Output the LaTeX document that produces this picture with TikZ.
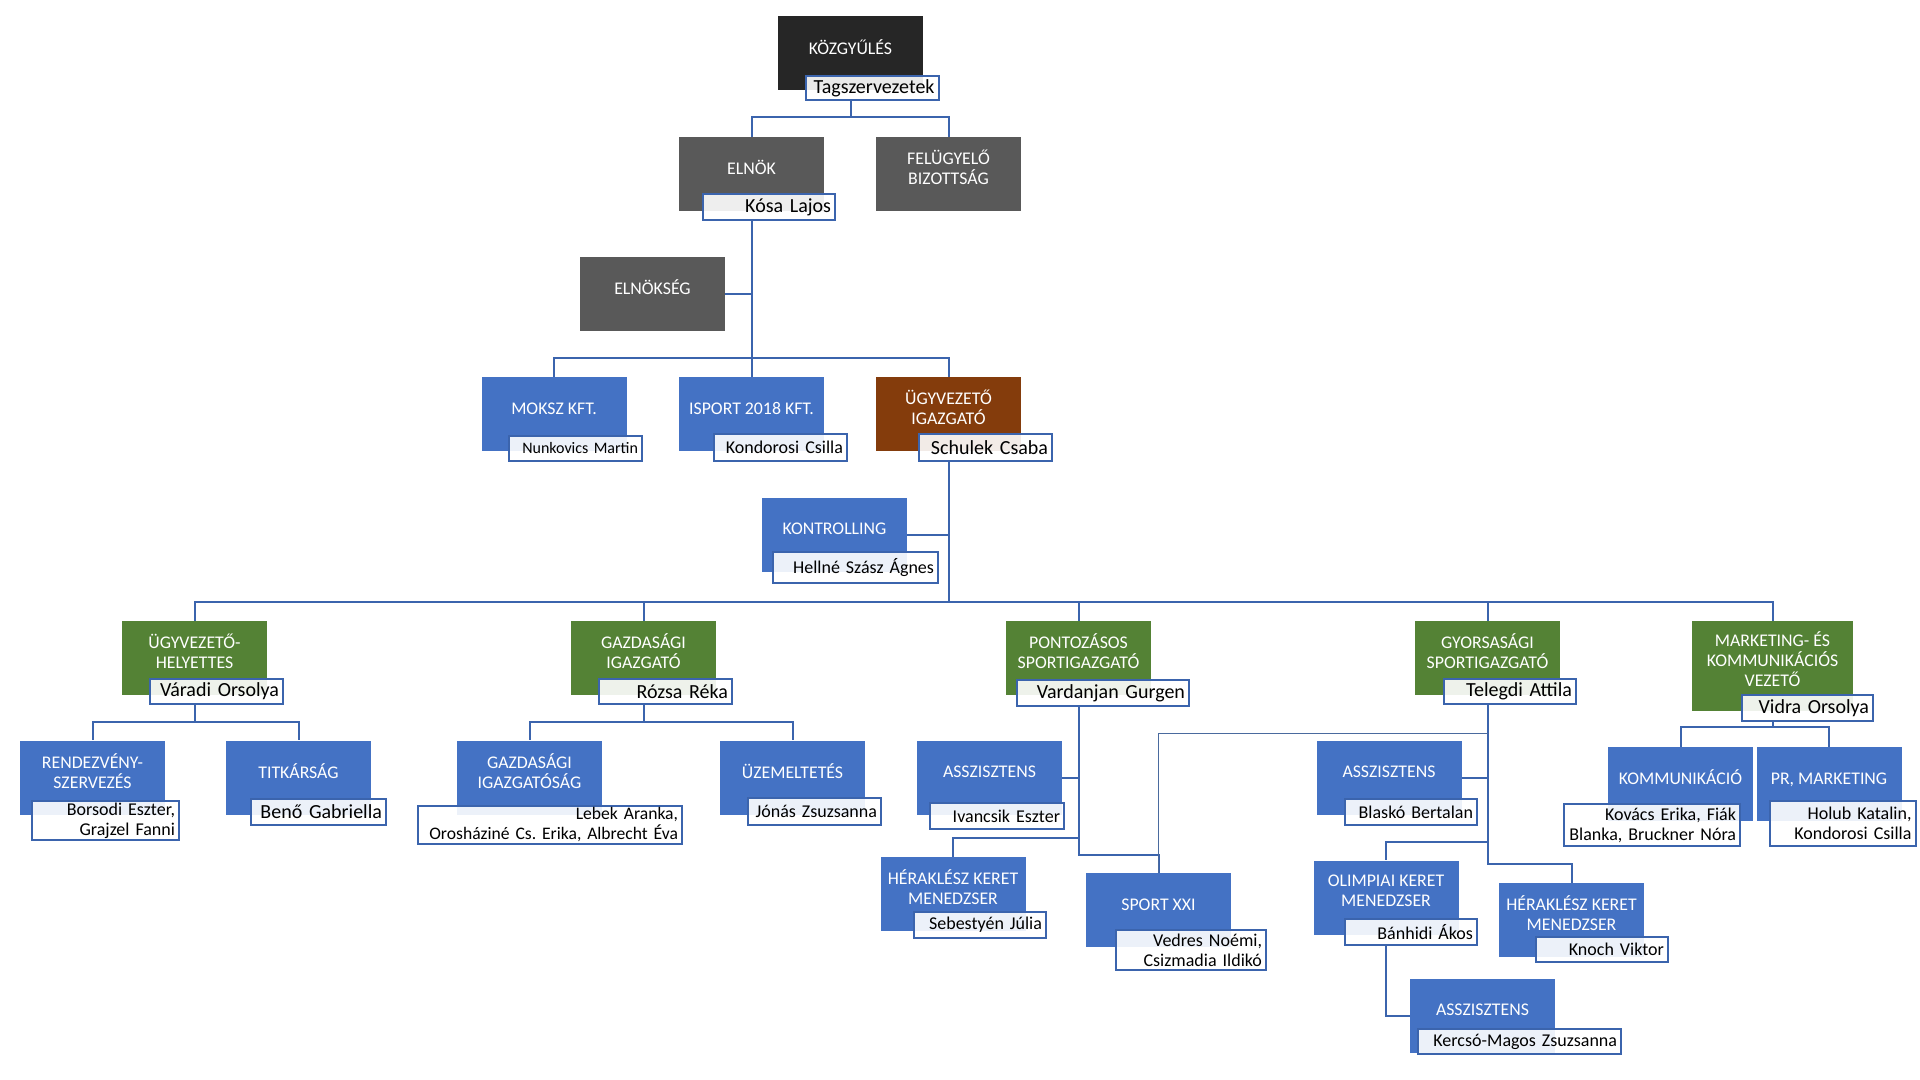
\documentclass[tikz,border=0pt]{standalone}
\usepackage{fontspec}
\setmainfont{Carlito}
\usepackage{xcolor}
\usepackage{tikz}
\frenchspacing

\definecolor{hdark}{HTML}{262626}
\definecolor{hgrey}{HTML}{595959}
\definecolor{hblue}{HTML}{4472C4}
\definecolor{hgreen}{HTML}{548235}
\definecolor{hbrown}{HTML}{843C0C}
\definecolor{lineblue}{HTML}{3B64AD}
\definecolor{thinblue}{HTML}{4A6A9E}

\begin{document}
\begin{tikzpicture}[
        x=0.5pt, y=-0.5pt,
        unitbox/.style={rectangle, fill=#1, text=white, minimum width=72.5pt, minimum height=37pt, inner sep=0pt, align=center, font=\fontsize{8.9}{10}\selectfont, execute at begin node={\vphantom{Ű}}, execute at end node={\vrule width 0pt height 0pt depth 6.8pt}},
        namebox/.style={rectangle, draw=lineblue, line width=1pt, fill=white, fill opacity=.9, text opacity=1, inner xsep=2pt, inner ysep=0pt, minimum height=13pt, text width=#1, align=right, font=\fontsize{9}{10}\selectfont},
        bigname/.style={font=\fontsize{10}{11}\selectfont},
        conn/.style={draw=lineblue, line width=1pt},
        thinconn/.style={draw=thinblue, line width=0.5pt}
    ]
    \useasboundingbox[fill=white] (0,0) rectangle (1920,1080);

    % Közgyűlés
    \node[unitbox=hdark] (kozgy) at (850.5,53.5) {KÖZGYŰLÉS};
    \node[namebox=62.5pt, bigname, minimum height=12pt] (tag) at (872,88) {Tagszervezetek};

    % Elnök, Felügyelő Bizottság
    \node[unitbox=hgrey] (elnok) at (751.5,174) {ELNÖK};
    \node[namebox=62pt, bigname] (kosa) at (769,207) {Kósa Lajos};
    \node[unitbox=hgrey] (fb) at (948.5,174) {FELÜGYELŐ\\BIZOTTSÁG};

    % Elnökség
    \node[unitbox=hgrey] (elnokseg) at (652.5,294) {ELNÖKSÉG};

    % Cégek
    \node[unitbox=hblue] (moksz) at (554,414) {MOKSZ KFT.};
    \node[namebox=62.5pt, font=\fontsize{8}{9}\selectfont, minimum height=12.5pt] (nunk) at (575.5,448.5) {Nunkovics Martin};
    \node[unitbox=hblue] (isport) at (751.5,414) {ISPORT 2018 KFT.};
    \node[namebox=62.5pt, minimum height=13.5pt] (kond) at (780.5,447.5) {Kondorosi Csilla};

    % Ügyvezető igazgató
    \node[unitbox=hbrown] (ugyv) at (948.5,414) {ÜGYVEZETŐ\\IGAZGATÓ};
    \node[namebox=62.5pt, bigname, minimum height=13.5pt] (schulek) at (985.5,447.5) {Schulek Csaba};

    % Kontrolling
    \node[unitbox=hblue] (kontr) at (834.5,534.5) {KONTROLLING};
    \node[namebox=78.5pt, minimum height=15.5pt] (hellne) at (855.5,567.5) {Hellné Szász Ágnes};

    % Ügyvezető-helyettes
    \node[unitbox=hgreen] (helyettes) at (194.5,658) {ÜGYVEZETŐ-\\HELYETTES};
    \node[namebox=62.5pt, bigname, minimum height=12.5pt] (varadi) at (216.5,691.5) {Váradi Orsolya};
    \node[unitbox=hblue] (rendezv) at (92.5,777.5) {RENDEZVÉNY-\\SZERVEZÉS};
    \node[namebox=69.5pt, minimum height=19.5pt] (borsodi) at (105.5,820.5) {Borsodi Eszter,\\Grajzel Fanni};
    \node[unitbox=hblue] (titk) at (298.5,777.5) {TITKÁRSÁG};
    \node[namebox=63.5pt, bigname] (beno) at (318.5,812) {Benő Gabriella};

    % Gazdasági igazgató
    \node[unitbox=hgreen] (gazd) at (643.5,658) {GAZDASÁGI\\IGAZGATÓ};
    \node[namebox=62.5pt, bigname, minimum height=12.5pt] (rozsa) at (665.5,691.5) {Rózsa Réka};
    \node[unitbox=hblue] (gazdig) at (529.5,777.5) {GAZDASÁGI\\IGAZGATÓSÁG};
    \node[namebox=128pt, font=\fontsize{8.8}{10}\selectfont, minimum height=19pt] (lebek) at (550,825) {Lebek Aranka,\\Orosháziné Cs.~Erika, Albrecht Éva};
    \node[unitbox=hblue] (uzem) at (792.5,777.5) {ÜZEMELTETÉS};
    \node[namebox=62.5pt, minimum height=13.5pt] (jonas) at (814.5,811.5) {Jónás Zsuzsanna};

    % Pontozásos sportigazgató
    \node[unitbox=hgreen] (pont) at (1078.5,658) {PONTOZÁSOS\\SPORTIGAZGATÓ};
    \node[namebox=82pt, bigname] (vardanjan) at (1103,693) {Vardanjan Gurgen};
    \node[unitbox=hblue] (asszp) at (989.5,777.5) {ASSZISZTENS};
    \node[namebox=63pt] (ivancsik) at (997,816) {Ivancsik Eszter};
    \node[unitbox=hblue] (herak1) at (953,894) {HÉRAKLÉSZ KERET\\MENEDZSER};
    \node[namebox=62pt] (sebestyen) at (980,925) {Sebestyén Júlia};
    \node[unitbox=hblue] (sport) at (1158.5,910) {SPORT XXI};
    \node[namebox=71pt, minimum height=20pt] (vedres) at (1191,950) {Vedres Noémi,\\Csizmadia Ildikó};

    % Gyorsasági sportigazgató
    \node[unitbox=hgreen] (gyors) at (1487.5,658) {GYORSASÁGI\\SPORTIGAZGATÓ};
    \node[namebox=62pt, bigname, minimum height=12.5pt] (telegdi) at (1510,691.5) {Telegdi Attila};
    \node[unitbox=hblue] (asszgy) at (1389,777.5) {ASSZISZTENS};
    \node[namebox=62pt] (blasko) at (1411,812) {Blaskó Bertalan};
    \node[unitbox=hblue] (olimp) at (1386,897.5) {OLIMPIAI KERET\\MENEDZSER};
    \node[namebox=62pt] (banhidi) at (1411,932) {Bánhidi Ákos};
    \node[unitbox=hblue] (herak2) at (1571.5,920) {HÉRAKLÉSZ KERET\\MENEDZSER};
    \node[namebox=62pt, minimum height=12.5pt] (knoch) at (1602,949.5) {Knoch Viktor};
    \node[unitbox=hblue] (asszol) at (1482.5,1015.5) {ASSZISZTENS};
    \node[namebox=97.5pt, minimum height=12.5pt] (kercso) at (1519.5,1041.5) {Kercsó-Magos Zsuzsanna};

    % Marketing- és kommunikációs vezető
    \node[unitbox=hgreen, minimum width=80.5pt, minimum height=45pt] (mark) at (1772.5,666) {MARKETING- ÉS\\KOMMUNIKÁCIÓS\\VEZETŐ};
    \node[namebox=61.5pt, bigname] (vidra) at (1807.5,708) {Vidra Orsolya};
    \node[unitbox=hblue] (komm) at (1680.5,784) {KOMMUNIKÁCIÓ};
    \node[namebox=84pt, minimum height=21pt] (kovacs) at (1652,825) {Kovács Erika, Fiák\\Blanka, Bruckner Nóra};
    \node[unitbox=hblue] (pr) at (1829,784) {PR, MARKETING};
    \node[namebox=69pt, minimum height=22.5pt] (holub) at (1842.5,823.5) {Holub Katalin,\\Kondorosi Csilla};

    % Connectors
    \coordinate (b1) at (850.5,117);
    \draw[conn] (kozgy.center |- tag.south) -- (b1) -| (elnok.north);
    \draw[conn] (b1) -| (fb.north);

    \coordinate (b2) at (751.5,358);
    \draw[conn] (elnok.center |- kosa.south) -- (b2);
    \draw[conn] (elnokseg.east) -- (elnokseg.east -| b2);
    \draw[conn] (b2) -| (moksz.north);
    \draw[conn] (b2) -- (isport.north);
    \draw[conn] (b2) -| (ugyv.north);

    \coordinate (b3) at (948.5,602);
    \draw[conn] (ugyv.center |- schulek.south) -- (b3);
    \draw[conn] (kontr.east) -- (kontr.east -| b3);
    \draw[conn] (b3) -| (helyettes.north);
    \draw[conn] (b3) -| (gazd.north);
    \draw[conn] (b3) -| (pont.north);
    \draw[conn] (b3) -| (gyors.north);
    \draw[conn] (b3) -| (mark.north);

    \coordinate (b4) at (194.5,722);
    \draw[conn] (helyettes.center |- varadi.south) -- (b4) -| (rendezv.north);
    \draw[conn] (b4) -| (titk.north);

    \coordinate (b5) at (643.5,722);
    \draw[conn] (gazd.center |- rozsa.south) -- (b5) -| (gazdig.north);
    \draw[conn] (b5) -| (uzem.north);

    \coordinate (p1) at (1078.5,838);
    \coordinate (p2) at (1078.5,855);
    \draw[conn] (pont.center |- vardanjan.south) -- (p2) -| (sport.north);
    \draw[conn] (asszp.east) -- (asszp.east -| p1);
    \draw[conn] (p1) -| (herak1.north);

    \coordinate (g1) at (1487.5,733);
    \coordinate (g2) at (1487.5,842);
    \coordinate (g3) at (1487.5,864);
    \draw[conn] (gyors.center |- telegdi.south) -- (g3) -| (herak2.north);
    \draw[thinconn] (g1) -| (sport.north);
    \draw[conn] (asszgy.east) -- (asszgy.east -| g1);
    \draw[conn] (g2) -| (olimp.north);
    \draw[conn] (olimp.center |- banhidi.south) |- (asszol.west);

    \coordinate (m1) at (1772.5,727);
    \draw[conn] (mark.center |- vidra.south) -- (m1) -| (komm.north);
    \draw[conn] (m1) -| (pr.north);
\end{tikzpicture}
\end{document}
